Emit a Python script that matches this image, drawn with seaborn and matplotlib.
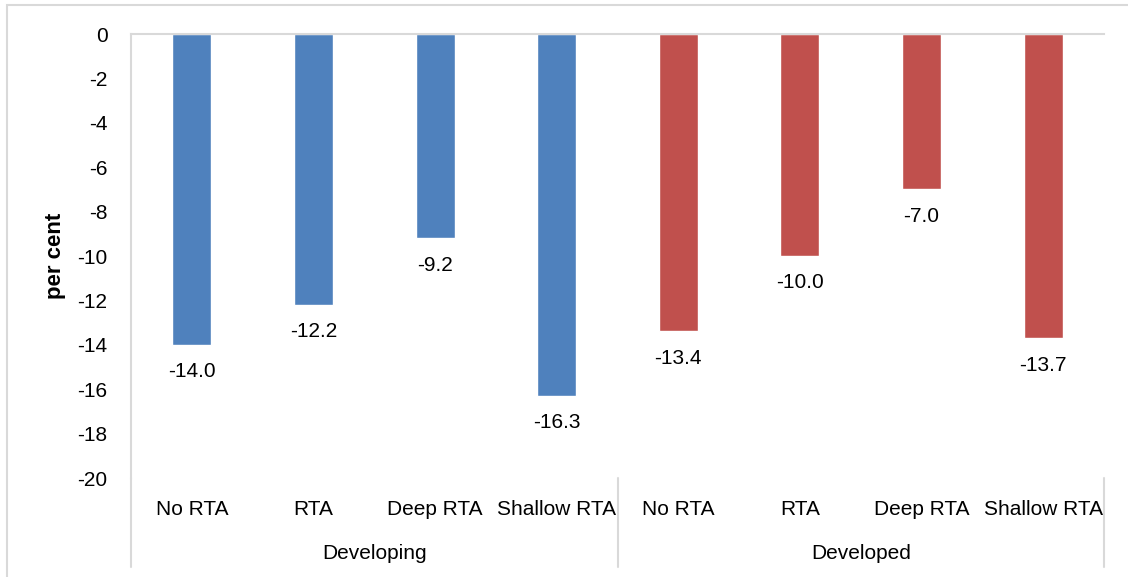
import matplotlib
matplotlib.use("Agg")
import matplotlib.pyplot as plt
from matplotlib import font_manager
import seaborn as sns
import pandas as pd

# Data
groups = ["Developing", "Developed"]
categories = ["No RTA", "RTA", "Deep RTA", "Shallow RTA"]
developing_values = [-14.0, -12.2, -9.2, -16.3]
developed_values = [-13.4, -10.0, -7.0, -13.7]
y_ticks = [0, -2, -4, -6, -8, -10, -12, -14, -16, -18, -20]

colors = {"Developing": "#4F81BD", "Developed": "#C0504D"}

rows = []
for g, vals in zip(groups, [developing_values, developed_values]):
    for c, v in zip(categories, vals):
        rows.append({"key": f"{g}|{c}", "group": g, "category": c, "value": v})
df = pd.DataFrame(rows)

sns.set_theme(style="white", rc={"text.color": "black", "axes.labelcolor": "black",
                                 "ytick.color": "black", "xtick.color": "black"})
installed = {f.name for f in font_manager.fontManager.ttflist}
family = "Liberation Sans Narrow" if "Liberation Sans Narrow" in installed else "Liberation Sans"
plt.rcParams["font.family"] = [family, "DejaVu Sans"]
FS = 15

W, H = 1128, 577
fig = plt.figure(figsize=(W / 100, H / 100), dpi=100)

# light outer frame of the chart area
fig.add_artist(plt.Rectangle((7 / W, -0.01), 1.02, 1 - 5 / H + 0.01, transform=fig.transFigure,
                             fill=False, edgecolor="#D9D9D9", linewidth=1.5))

x0, x1, ytop, ybot = 131, 1104, 34, 478
ax = fig.add_axes([x0 / W, 1 - ybot / H, (x1 - x0) / W, (ybot - ytop) / H])

sns.barplot(data=df, x="key", y="value", hue="group", palette=colors, width=0.32,
            dodge=False, legend=False, ax=ax, saturation=1)

ax.set_ylim(-20, 0)
ax.set_xlim(-0.5, len(df) - 0.5)
ax.set_yticks(y_ticks)
ax.set_yticklabels([str(t) for t in y_ticks], fontsize=FS)
ax.tick_params(axis="y", length=0, pad=17)
ax.set_xticks([])
ax.set_xlabel("")
ax.set_ylabel("per cent", fontsize=FS + 1, fontweight="bold")
ax.yaxis.set_label_coords((66 - x0) / (x1 - x0), 0.5)

for s in ["right", "bottom"]:
    ax.spines[s].set_visible(False)
for s in ["left", "top"]:
    ax.spines[s].set_color("#D9D9D9")
    ax.spines[s].set_linewidth(1.5)

# value labels below each bar
for i, v in enumerate(df["value"]):
    ax.annotate(f"{v:.1f}", xy=(i, v), xytext=(0, -12.5), textcoords="offset points",
                ha="center", va="top", fontsize=FS, color="black")

# two-level category axis
trans = ax.get_xaxis_transform()
for i, c in enumerate(df["category"]):
    ax.text(i, -0.07, c, transform=trans, ha="center", va="center", fontsize=FS, clip_on=False)
n = len(categories)
for gi, g in enumerate(groups):
    ax.text(gi * n + (n - 1) / 2, -0.17, g, transform=trans, ha="center", va="center",
            fontsize=FS, clip_on=False)
for xs in [-0.5, n - 0.5, 2 * n - 0.5]:
    ax.plot([xs, xs], [0, -0.2], transform=trans, color="#D9D9D9", linewidth=1.5, clip_on=False)

fig.savefig("out.png", dpi=100)
